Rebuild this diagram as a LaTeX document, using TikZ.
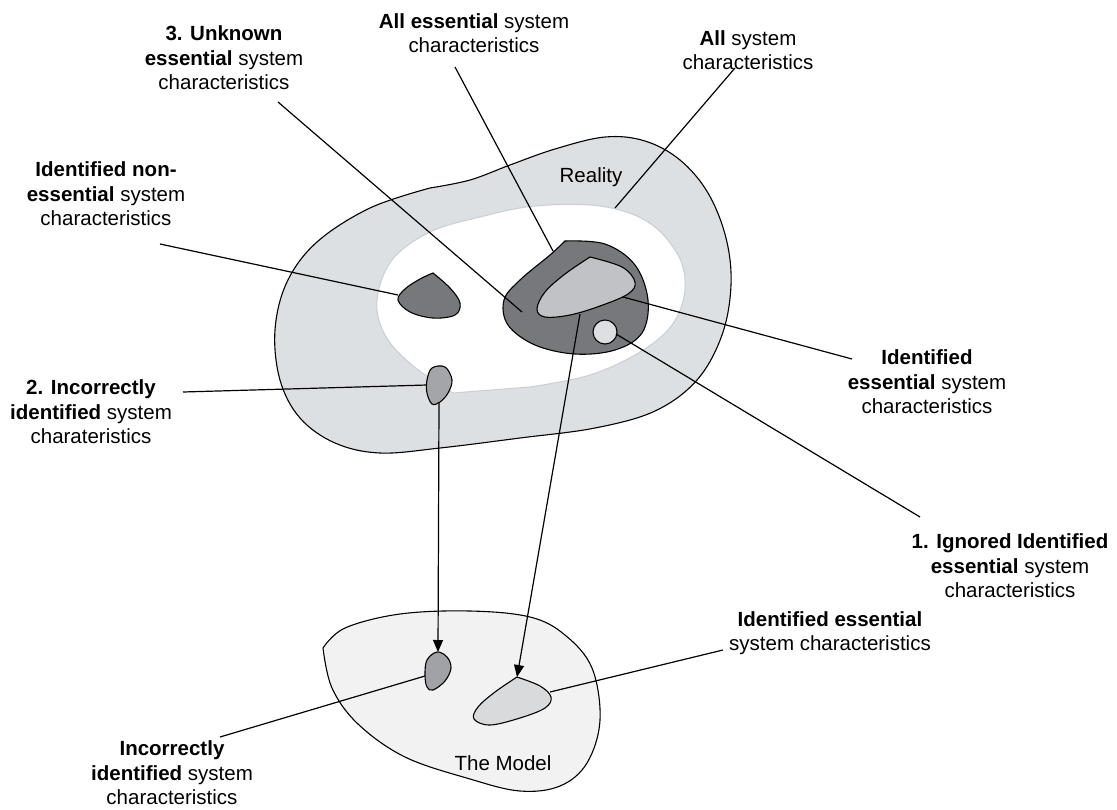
\documentclass[tikz,border=0pt]{standalone}
\usepackage{fontspec}
\setmainfont{Liberation Sans}
\usetikzlibrary{arrows.meta}
\definecolor{realityfill}{RGB}{221,224,227}
\definecolor{innerline}{RGB}{200,206,214}
\definecolor{darkblob}{RGB}{118,120,123}
\definecolor{lightblob}{RGB}{192,194,197}
\definecolor{ignoredfill}{RGB}{222,223,224}
\definecolor{wrongfill}{RGB}{163,165,168}
\definecolor{modelfill}{RGB}{242,242,242}
\definecolor{modelwrong}{RGB}{160,162,165}
\definecolor{modelright}{RGB}{216,218,220}
\begin{document}
\begin{tikzpicture}[x=1pt,y=-1pt,
  lbl/.style={align=center, inner sep=0pt, font=\fontsize{20.5pt}{24.5pt}\selectfont},
  blob/.style={draw=black, line width=1.1pt},
  lead/.style={draw=black, line width=1.2pt},
  arr/.style={lead, -{Triangle[length=12pt,width=10pt]}}]
\useasboundingbox (0,0) rectangle (1117,809);

% ---------- Reality ----------
\filldraw[blob, fill=realityfill] plot[smooth, tension=0.6] coordinates {
  (430,188) (470,180) (510,165) (555,149) (605,137) (645,141) (680,160)
  (708,193) (726,238) (731,285) (722,335) (697,380) (655,411) (595,428)
  (520,438) (440,448) (380,453) (335,443) (300,418) (280,380) (275,330)
  (287,282) (317,242) (370,208) (430,188)} -- cycle;
\filldraw[draw=innerline, fill=white, line width=1pt] plot[smooth, tension=0.6] coordinates {
  (453,393) (412,365) (385,335) (377,300) (392,260) (430,232) (480,217)
  (535,206) (600,206) (648,222) (678,255) (685,290) (672,325) (640,352)
  (590,375) (530,387)} -- cycle;
\node[lbl] (reality) at (591,177) {Reality};

% all essential characteristics
\filldraw[blob, fill=darkblob] plot[smooth, tension=0.6] coordinates {
  (565,241) (605,244) (635,265) (648,300) (642,333) (615,350) (575,354)
  (535,345) (508,325) (504,300) (520,280) (550,255) (565,241)} -- cycle;
% identified essential characteristics
\filldraw[blob, fill=lightblob] plot[smooth, tension=0.6] coordinates {
  (590,257) (622,267) (635,282) (628,294) (600,306) (570,315) (545,317)
  (537,309) (545,292) (565,274) (590,257)} -- cycle;
% ignored identified characteristic
\filldraw[blob, fill=ignoredfill] (605,332) circle (12pt);
% identified non-essential characteristics
\filldraw[blob, fill=darkblob] plot[smooth, tension=0.6] coordinates {
  (433,273) (450,288) (460,303) (455,315) (433,318) (410,312) (398,300)
  (405,289) (420,279) (433,273)} -- cycle;
% incorrectly identified characteristics
\filldraw[blob, fill=wrongfill] plot[smooth cycle, tension=0.6] coordinates {
  (432,368) (445,367) (452,380) (448,393) (440,402) (432,404) (427,393) (427,380)};

% ---------- The Model ----------
\filldraw[blob, fill=modelfill] plot[smooth, tension=0.6] coordinates {
  (323,648) (345,628) (400,614) (470,611) (530,617) (565,635) (592,668)
  (600,720) (587,763) (560,786) (520,791) (470,779) (405,757) (358,724)
  (332,688) (323,648)} -- cycle;
\filldraw[blob, fill=modelwrong] plot[smooth cycle, tension=0.6] coordinates {
  (437,652) (447,657) (451,668) (445,681) (433,690) (427,687) (425,675) (427,660)};
\filldraw[blob, fill=modelright] plot[smooth, tension=0.6] coordinates {
  (517,677) (540,686) (551,697) (545,708) (520,718) (490,725) (474,719)
  (478,707) (495,692) (517,677)} -- cycle;
\node[lbl] (model) at (503,763) {The Model};

% ---------- attachment points ----------
\coordinate (unkEnd) at (522,312);
\coordinate (allEssEnd) at (553,251);
\coordinate (allSysEnd) at (615,208);
\coordinate (nonEssEnd) at (398,295);
\coordinate (wrongLeft) at (427,385);
\coordinate (wrongBottom) at (439,403);
\coordinate (idEssEnd) at (623,297);
\coordinate (idEssBottom) at (580,314);
\coordinate (ignoredEnd) at (616,334);
\coordinate (mWrongTop) at (438,652);
\coordinate (mWrongLeft) at (425,676);
\coordinate (mRightTop) at (517,677);
\coordinate (mRightEnd) at (550,692);

% ---------- labels ----------
\node[lbl] (unk) at (224,58) {\textbf{3. Unknown}\\\textbf{essential} system\\characteristics};
\node[lbl] (allEss) at (474,33) {\textbf{All essential} system\\characteristics};
\node[lbl] (allSys) at (748,50) {\textbf{All} system\\characteristics};
\node[lbl] (nonEss) at (106,194) {\textbf{Identified non-}\\\textbf{essential} system\\characteristics};
\node[lbl] (wrong) at (91,412) {\textbf{2. Incorrectly}\\\textbf{identified} system\\charateristics};
\node[lbl] (idEss) at (927,382) {\textbf{Identified}\\\textbf{essential} system\\characteristics};
\node[lbl] (ignored) at (1010,566) {\textbf{1. Ignored Identified}\\\textbf{essential} system\\characteristics};
\node[lbl] (mIdEss) at (830,633) {\textbf{Identified essential}\\system characteristics};
\node[lbl] (mWrong) at (172,773) {\textbf{Incorrectly}\\\textbf{identified} system\\characteristics};

\coordinate (unkStart) at (278,102);
\coordinate (allEssStart) at (455,67);
\coordinate (allSysStart) at (735,68);
\coordinate (nonEssStart) at (160,244);
\coordinate (wrongStart) at (183,392);
\coordinate (idEssStart) at (852,359);
\coordinate (ignoredStart) at (920,517);
\coordinate (mIdEssStart) at (723,650);
\coordinate (mWrongStart) at (220,737);

% ---------- connectors ----------
\draw[lead] (unkStart) -- (unkEnd);
\draw[lead] (allEssStart) -- (allEssEnd);
\draw[lead] (allSysStart) -- (allSysEnd);
\draw[lead] (nonEssStart) -- (nonEssEnd);
\draw[lead] (wrongStart) -- (wrongLeft);
\draw[lead] (idEssStart) -- (idEssEnd);
\draw[lead] (ignoredStart) -- (ignoredEnd);
\draw[lead] (mIdEssStart) -- (mRightEnd);
\draw[lead] (mWrongStart) -- (mWrongLeft);
\draw[arr] (wrongBottom) -- (mWrongTop);
\draw[arr] (idEssBottom) -- (mRightTop);
\end{tikzpicture}
\end{document}
